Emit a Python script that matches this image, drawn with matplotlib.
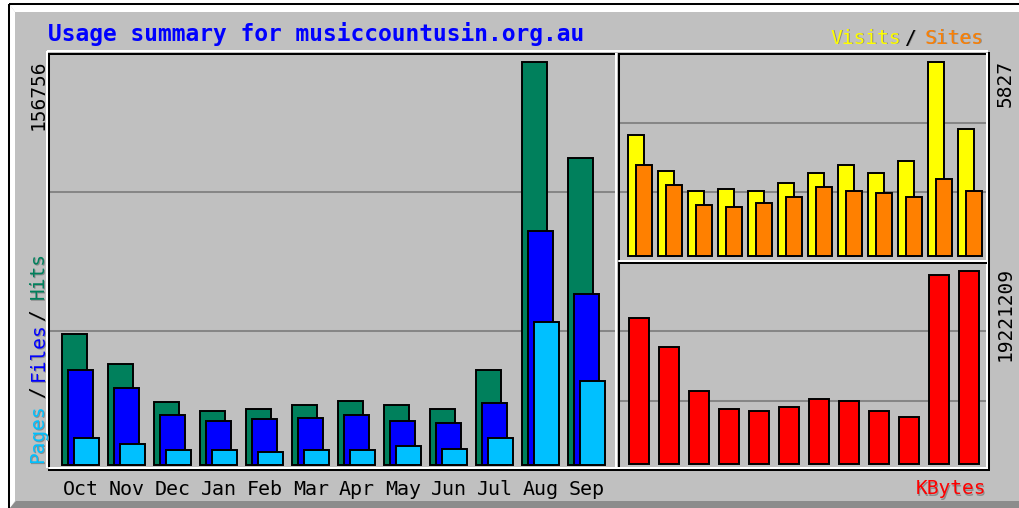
"""Webalizer-style usage summary for musiccountusin.org.au."""
import matplotlib
matplotlib.use("Agg")
import matplotlib.pyplot as plt
import numpy as np
from matplotlib.patches import Rectangle, Polygon

W, H = 1019, 508

# -- Data ----------------------------------------------------------------------
MONTHS = ["Oct", "Nov", "Dec", "Jan", "Feb", "Mar", "Apr", "May", "Jun", "Jul", "Aug", "Sep"]
HITS   = [51100, 39400, 24600, 21100, 21800, 23200, 24700, 23200, 21800, 37000, 156756, 119300]
FILES  = [37000, 30000, 19500, 17200, 17900, 18400, 19500, 17200, 16400, 24000, 90900, 66700]
PAGES  = [10500, 8200, 5800, 5800, 5100, 5800, 5800, 7400, 6200, 10500, 55800, 32800]
VISITS = [3630, 2550, 1950, 2010, 1950, 2190, 2490, 2730, 2490, 2850, 5827, 3810]
SITES  = [2730, 2130, 1530, 1470, 1590, 1770, 2070, 1950, 1890, 1770, 2310, 1950]
KBYTES = [14548000, 11604000, 7259000, 5469000, 5270000, 5698000, 6463000, 6265000,
          5270000, 4703000, 18863000, 19221209]

# -- Style ---------------------------------------------------------------------
BG     = "#c0c0c0"
HITS_C = "#00805c"
FILE_C = "#0000ff"
PAGE_C = "#00c0ff"
VIS_C  = "#ffff00"
SITE_C = "#ff8000"
KB_C   = "#ff0000"
GRID_C = "#868686"
SHADOW = "#8c8c8c"
MONO   = "DejaVu Sans Mono"
LW     = 1.45           # ~2 px lines
BAR    = dict(align="edge", edgecolor="black", linewidth=1.4)

fig = plt.figure(figsize=(W / 100, H / 100), dpi=100, facecolor="white")
base = fig.add_axes([0, 0, 1, 1], zorder=0)
base.set_xlim(0, W); base.set_ylim(H, 0); base.axis("off")


def line(xs, ys, c):
    base.plot(xs, ys, color=c, lw=LW, solid_capstyle="butt")


def label(x, y, s, color, shadow=True, **kw):
    kw.setdefault("fontsize", 14)
    kw.setdefault("family", MONO)
    if shadow:
        base.text(x + 1, y + 1, s, color=SHADOW, **kw)
    base.text(x, y, s, color=color, **kw)


def panel(x0, y0, x1, y1, first_left, step, zero_py, top_py, vmax):
    """Axes over the pixel box, data scaled so bars land on the pixel grid."""
    ax = fig.add_axes([x0 / W, 1 - y1 / H, (x1 - x0) / W, (y1 - y0) / H], zorder=1)
    ax.patch.set_visible(False)
    for s in ax.spines.values():
        s.set_visible(False)
    ax.set_xlim((x0 - first_left) / step, (x1 - first_left) / step)
    k = vmax / (zero_py - top_py)
    ax.set_ylim((zero_py - y1) * k, (zero_py - y0) * k)
    ax.set_yticks([])
    ax.set_xticks([])
    return ax


# -- Frame and background --------------------------------------------------------
base.add_patch(Rectangle((10, 5), W - 10, H - 5, color=BG, lw=0))
base.add_patch(Polygon([(10, 5), (W, 5), (W, 12), (15, 12)], color="white", lw=0))
base.add_patch(Polygon([(10, 5), (15, 12), (15, 501), (10, 508)], color="white", lw=0))
base.add_patch(Polygon([(10, 508), (16, 501), (W, 501), (W, 508)], color="#8c8c8c", lw=0))
line([9, W], [4, 4], "black")
line([9, 9], [4, H], "black")

# etched outer box
line([47, 988], [51, 51], "white")
line([47, 47], [51, 468], "white")
line([48, 990], [470, 470], "black")
line([989.5, 989.5], [52, 470], "black")

# gridlines (drawn behind the bars)
for y in (192, 331):
    line([50, 615], [y, y], GRID_C)
for y in (123, 192):
    line([620, 986], [y, y], GRID_C)
for y in (331, 401):
    line([620, 986], [y, y], GRID_C)

# panel bevels
line([49, 616], [53.5, 53.5], "black")
line([49.5, 49.5], [53, 467], "black")
line([616.5, 616.5], [53, 467], "white")
line([49, 988], [467.5, 467.5], "white")
line([619, 987], [53.5, 53.5], "black")
line([619.5, 619.5], [53, 260], "black")
line([619, 987], [260.5, 260.5], "white")
line([987.5, 987.5], [53, 468], "white")
line([619, 987], [262.5, 262.5], "black")
line([619.5, 619.5], [262, 467], "black")

idx = np.arange(len(MONTHS))

# -- Hits / Files / Pages ------------------------------------------------------
ax = panel(51, 55, 615, 466, first_left=62, step=46, zero_py=465, top_py=62, vmax=max(HITS))
ax.bar(idx, HITS, width=25 / 46, color=HITS_C, **BAR)
ax.bar(idx + 6 / 46, FILES, width=25 / 46, color=FILE_C, **BAR)
ax.bar(idx + 12 / 46, PAGES, width=25 / 46, color=PAGE_C, **BAR)
ax.set_xticks(idx + 19 / 46)
ax.set_xticklabels(MONTHS, fontsize=14.4, family=MONO)
ax.tick_params(axis="x", length=0, pad=10)

# -- Visits / Sites --------------------------------------------------------------
ax = panel(621, 55, 986, 259, first_left=628, step=30, zero_py=256, top_py=62, vmax=max(VISITS))
ax.bar(idx, VISITS, width=16 / 30, color=VIS_C, **BAR)
ax.bar(idx + 8 / 30, SITES, width=16 / 30, color=SITE_C, **BAR)

# -- KBytes ----------------------------------------------------------------------
ax = panel(621, 264, 986, 466, first_left=629, step=30, zero_py=464, top_py=271, vmax=max(KBYTES))
ax.bar(idx, KBYTES, width=20 / 30, color=KB_C, **BAR)

# -- Texts -----------------------------------------------------------------------
base.text(48, 34, "Usage summary for musiccountusin.org.au", color="#0000ff",
          family=MONO, fontweight="bold", fontsize=16.5, ha="left", va="center")

label(38, 60, f"{max(HITS)}", "black", shadow=False, rotation=90, ha="center", va="top")
label(1005, 60, f"{max(VISITS)}", "black", shadow=False, rotation=90, ha="center", va="top")
label(1005, 267, f"{max(KBYTES)}", "black", shadow=False, rotation=90, ha="center", va="top")

label(38, 463, "Pages", PAGE_C, rotation=90, ha="center", va="bottom")
label(38, 392, "/", "black", rotation=90, ha="center", va="center")
label(38, 381, "Files", FILE_C, rotation=90, ha="center", va="bottom")
label(38, 315, "/", "black", rotation=90, ha="center", va="center")
label(38, 299, "Hits", HITS_C, rotation=90, ha="center", va="bottom")

label(830, 38, "Visits", VIS_C, ha="left", va="center")
label(910, 38, "/", "black", ha="center", va="center")
label(925, 38, "Sites", SITE_C, ha="left", va="center")
label(986, 489, "KBytes", KB_C, ha="right", va="center")

fig.savefig("out.png", dpi=100, facecolor=fig.get_facecolor())
